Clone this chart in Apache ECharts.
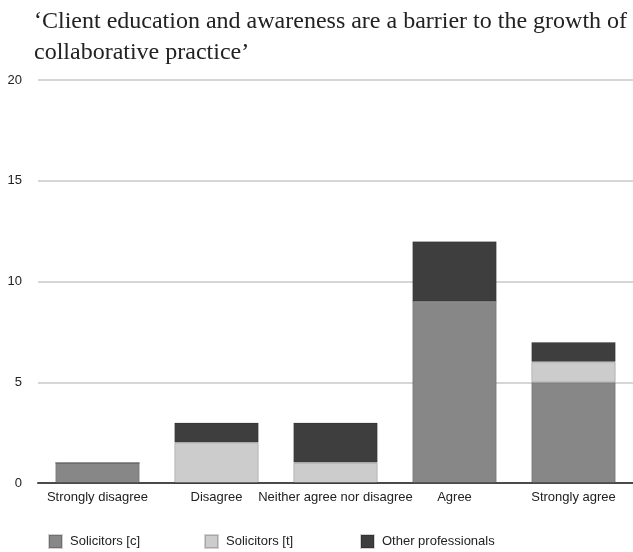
<!DOCTYPE html>
<html>
<head>
<meta charset="utf-8">
<script src="https://cdn.jsdelivr.net/npm/echarts@6/dist/echarts.min.js"></script>
<style>
  html, body { margin: 0; padding: 0; background: #fff; }
  #chart { width: 633px; height: 552px; }
</style>
</head>
<body>
<div id="chart"></div>
<script>
// Survey responses by professional group
const categories = ['Strongly disagree', 'Disagree', 'Neither agree nor disagree', 'Agree', 'Strongly agree'];
const solicitorsC = [1, 0, 0, 9, 5];
const solicitorsT = [0, 2, 1, 0, 1];
const otherProfessionals = [0, 1, 2, 3, 1];
const yTicks = [0, 5, 10, 15, 20];
const seriesNames = ['Solicitors [c]', 'Solicitors [t]', 'Other professionals'];
const seriesColors = ['#878787', '#cccccc', '#3e3e3e'];
const legendLeft = [48, 204, 360];

const chart = echarts.init(document.getElementById('chart'));

const labelFont = { fontFamily: 'Liberation Sans', fontSize: 13, color: '#222222' };

function bar(name, data, color) {
  return {
    name: name,
    type: 'bar',
    stack: 'total',
    data: data,
    barCategoryGap: '29%',
    itemStyle: { color: color, borderColor: 'rgba(0,0,0,0.18)', borderWidth: 1 }
  };
}

// one legend block per series so each entry sits at its own column
const legends = seriesNames.map(function (name, i) {
  return {
    left: legendLeft[i],
    top: 534,
    padding: 0,
    itemWidth: 13,
    itemHeight: 13,
    icon: 'rect',
    selectedMode: false,
    textStyle: Object.assign({ padding: [0, 0, 0, 3] }, labelFont),
    data: [name]
  };
});

chart.setOption({
  animation: false,
  backgroundColor: '#ffffff',
  title: {
    text: '\u2018Client education and awareness are a barrier to the growth of\ncollaborative practice\u2019',
    left: 34,
    top: 6,
    padding: 0,
    textStyle: {
      fontFamily: 'Liberation Serif',
      fontSize: 24,
      fontWeight: 'normal',
      color: '#222222',
      lineHeight: 31
    }
  },
  legend: legends,
  grid: { left: 38, right: 0, top: 80, bottom: 69, containLabel: false },
  xAxis: {
    type: 'category',
    data: categories,
    axisLine: { lineStyle: { color: '#4a4a4a', width: 2 } },
    axisTick: { show: false },
    axisLabel: Object.assign({ interval: 0, margin: 8 }, labelFont)
  },
  yAxis: {
    type: 'value',
    min: yTicks[0],
    max: yTicks[yTicks.length - 1],
    interval: 5,
    axisLine: { show: false },
    axisTick: { show: false },
    splitLine: { lineStyle: { color: '#d6d6d6', width: 2 } },
    axisLabel: Object.assign({ margin: 16 }, labelFont)
  },
  series: seriesNames.map(function (name, i) {
    return bar(name, [solicitorsC, solicitorsT, otherProfessionals][i], seriesColors[i]);
  })
});
</script>
</body>
</html>
